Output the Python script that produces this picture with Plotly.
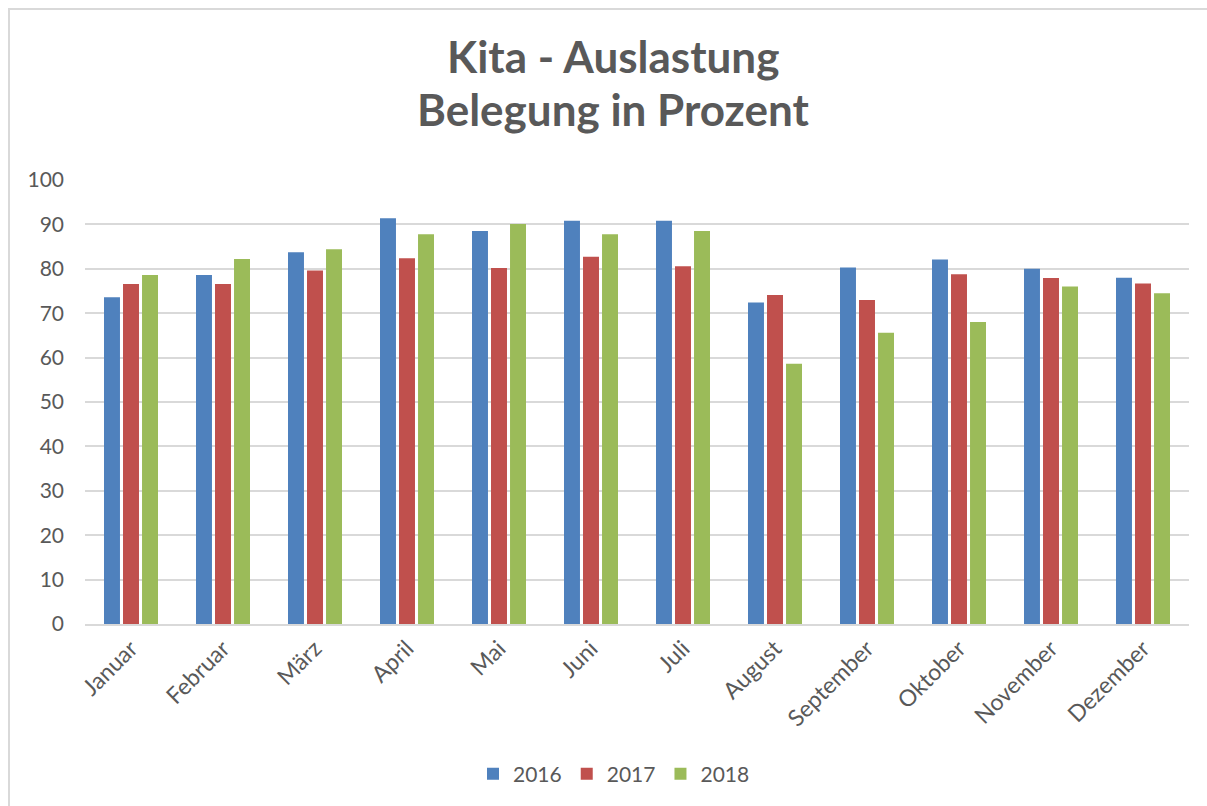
import plotly.graph_objects as go

months = ["Januar", "Februar", "März", "April", "Mai", "Juni", "Juli",
          "August", "September", "Oktober", "November", "Dezember"]
v2016 = [73.6, 78.6, 83.7, 91.4, 88.5, 90.8, 90.8, 72.4, 80.3, 82.1, 80.0, 78.0]
v2017 = [76.6, 76.6, 79.6, 82.4, 80.2, 82.7, 80.6, 74.1, 73.0, 78.8, 77.9, 76.7]
v2018 = [78.6, 82.2, 84.4, 87.8, 90.1, 87.8, 88.5, 58.6, 65.6, 68.0, 76.0, 74.5]
series = [("2016", v2016, "#4F81BD"), ("2017", v2017, "#C0504D"), ("2018", v2018, "#9BBB59")]
yticks = [0, 10, 20, 30, 40, 50, 60, 70, 80, 90, 100]

W, H = 1207, 806
L, R, T, B = 85, 18, 180, 182
pw, ph = W - L - R, H - T - B

def px(x):
    return (x - L) / pw

def py(y):
    return (H - B - y) / ph

FONT = "Lato, 'Open Sans', sans-serif"
TXT = "#595959"

fig = go.Figure()
for name, vals, col in series:
    fig.add_trace(go.Bar(x=months, y=vals, name=name,
                         marker=dict(color=col, line=dict(width=0))))

fig.update_layout(
    width=W, height=H,
    margin=dict(l=L, r=R, t=T, b=B),
    paper_bgcolor="white", plot_bgcolor="white",
    barmode="group", bargap=0.38, bargroupgap=0.16,
    font=dict(family=FONT, color=TXT, size=20),
    showlegend=True,
    legend=dict(orientation="h", x=px(614), xanchor="center", y=py(774), yanchor="middle",
                font=dict(size=21, color=TXT), itemwidth=30, traceorder="normal"),
    xaxis=dict(tickangle=-45, tickfont=dict(size=23, color=TXT), showgrid=False,
               showline=True, linecolor="#D9D9D9", linewidth=2, ticks=""),
    yaxis=dict(range=[0, 100], tickvals=yticks, tickfont=dict(size=21, color=TXT),
               gridcolor="#D9D9D9", gridwidth=1.5, showline=False, zeroline=False,
               ticks="", ticklabelstandoff=20),
)

fig.add_annotation(text="<b>Kita - Auslastung</b>", x=px(613), y=py(56), xref="paper", yref="paper",
                   xanchor="center", yanchor="middle", showarrow=False,
                   font=dict(size=44, color=TXT, family=FONT))
fig.add_annotation(text="<b>Belegung in Prozent</b>", x=px(613), y=py(109), xref="paper", yref="paper",
                   xanchor="center", yanchor="middle", showarrow=False,
                   font=dict(size=44, color=TXT, family=FONT))

fig.add_shape(type="rect", xref="paper", yref="paper",
              x0=px(9), x1=px(1220), y0=py(820), y1=py(9),
              line=dict(color="#D9D9D9", width=2), layer="below")

fig.write_html("out.html", config={"displayModeBar": False},
               post_script="document.body.style.margin='0';document.body.style.overflow='hidden';")
